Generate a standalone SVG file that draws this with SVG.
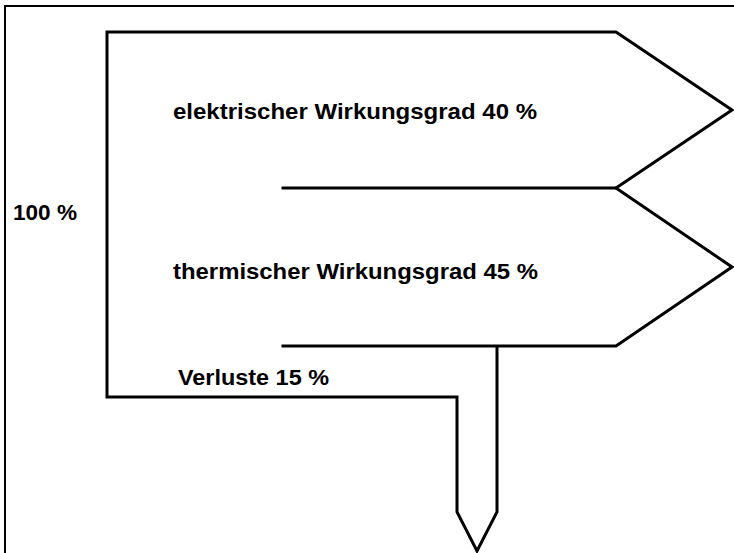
<svg xmlns="http://www.w3.org/2000/svg" width="734" height="553" viewBox="0 0 734 553">
  <style>
    .frame { fill: none; stroke: #000; stroke-width: 2; }
    .flow { fill: none; stroke: #000; stroke-width: 3; stroke-linejoin: miter; stroke-linecap: square; }
    .lbl { font-family: "Liberation Sans", Arial, sans-serif; font-weight: bold; font-size: 22px; fill: #000; }
  </style>
  <rect width="734" height="553" fill="#fff"/>
  <!-- outer frame -->
  <rect class="frame" x="5" y="6" width="800" height="600"/>

  <!-- energy flow outline -->
  <g id="flows">
    <path class="flow" d="M283,346 H616 L732,267 L616,188 L732,110 L616,32 H107 V397 H457 V512 L477,551 L497,512 V346"/>
    <path class="flow" d="M283,188 H616"/>
  </g>

  <g id="input">
    <text class="lbl" x="13" y="220" textLength="64" lengthAdjust="spacingAndGlyphs">100 %</text>
  </g>
  <g id="electric">
    <text class="lbl" x="173" y="119" textLength="364" lengthAdjust="spacingAndGlyphs">elektrischer Wirkungsgrad 40 %</text>
  </g>
  <g id="thermal">
    <text class="lbl" x="173" y="279" textLength="365" lengthAdjust="spacingAndGlyphs">thermischer Wirkungsgrad 45 %</text>
  </g>
  <g id="losses">
    <text class="lbl" x="178" y="385" textLength="151" lengthAdjust="spacingAndGlyphs">Verluste 15 %</text>
  </g>
</svg>
